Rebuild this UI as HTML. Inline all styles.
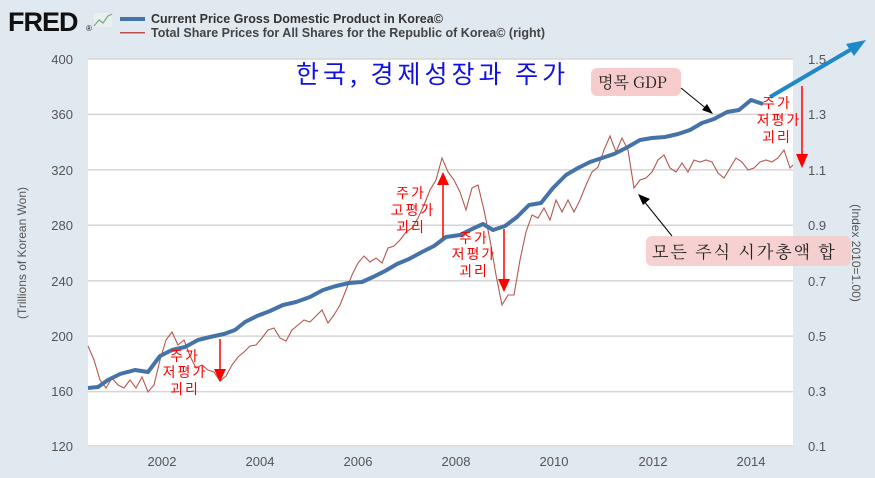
<!DOCTYPE html>
<html><head><meta charset="utf-8"><style>
body{margin:0;width:875px;height:473px;overflow:hidden;background:#e1e9f0;font-family:"Liberation Sans","Noto Sans CJK KR",sans-serif}
</style></head><body>
<svg width="875" height="473" xmlns="http://www.w3.org/2000/svg" font-family="Liberation Sans, Noto Sans CJK KR, sans-serif">
<rect width="875" height="473" fill="#e1e9f0"/>
<text x="8" y="31" font-size="27" font-weight="bold" fill="#111" letter-spacing="-1">FRED</text>
<text x="86" y="31" font-size="8" fill="#111">®</text>
<rect x="93" y="12" width="20" height="16" fill="#e8eef2" stroke="#cdd" stroke-width="0.5"/>
<polyline points="94,26 99,20 103,23 108,16 112,14" fill="none" stroke="#7a7" stroke-width="1.2"/>
<rect x="120" y="17" width="25" height="4" fill="#4572a7"/>
<text x="151" y="23" font-size="12.5" font-weight="bold" fill="#333">Current Price Gross Domestic Product in Korea©</text>
<rect x="120" y="32" width="25" height="1.5" fill="#c0504d"/>
<text x="151" y="37" font-size="12.5" font-weight="bold" fill="#444">Total Share Prices for All Shares for the Republic of Korea© (right)</text>
<rect x="88" y="59" width="705" height="388" fill="#fff"/>
<g stroke="#d6d6d6" stroke-width="1.5">
<line x1="88" x2="793" y1="59" y2="59"/><line x1="88" x2="793" y1="114.4" y2="114.4"/><line x1="88" x2="793" y1="169.9" y2="169.9"/><line x1="88" x2="793" y1="225.3" y2="225.3"/><line x1="88" x2="793" y1="280.7" y2="280.7"/><line x1="88" x2="793" y1="336.1" y2="336.1"/><line x1="88" x2="793" y1="391.6" y2="391.6"/><line x1="88" x2="793" y1="446" y2="446"/>
</g>
<g font-size="13" fill="#555" text-anchor="end">
<text x="73" y="64">400</text><text x="73" y="119">360</text><text x="73" y="175">320</text><text x="73" y="230">280</text><text x="73" y="286">240</text><text x="73" y="341">200</text><text x="73" y="396">160</text><text x="73" y="451">120</text>
</g>
<g font-size="13" fill="#555">
<text x="808" y="64">1.5</text><text x="808" y="119">1.3</text><text x="808" y="175">1.1</text><text x="808" y="230">0.9</text><text x="808" y="286">0.7</text><text x="808" y="341">0.5</text><text x="808" y="396">0.3</text><text x="808" y="451">0.1</text>
</g>
<g font-size="13" fill="#555" text-anchor="middle">
<text x="162" y="466">2002</text><text x="260" y="466">2004</text><text x="358" y="466">2006</text><text x="456" y="466">2008</text><text x="554" y="466">2010</text><text x="653" y="466">2012</text><text x="751" y="466">2014</text>
</g>
<text transform="translate(26,253) rotate(-90)" font-size="12" fill="#555" text-anchor="middle">(Trillions of Korean Won)</text>
<text transform="translate(852,253) rotate(90)" font-size="12" fill="#555" text-anchor="middle">(Index 2010=1.00)</text>
<polyline fill="none" stroke="#b5574f" stroke-width="1.1" points="88,346 94,360 100,380 106,388 112,378 118,385 124,388 130,380 136,388 142,377 148,392 154,385 160,360 166,340 172,332 178,345 184,340 190,356 196,368 202,365 208,370 214,372 220,381 226,376 232,365 238,357 244,352 250,346 256,345 262,338 268,330 274,328 280,338 286,341 292,330 298,325 304,320 310,322 316,316 322,310 328,323 334,315 340,305 346,290 352,275 358,263 364,256 370,262 376,258 382,263 388,248 394,246 400,240 406,232 412,228 418,218 424,205 430,190 436,180 442,158 448,172 454,180 460,192 466,210 472,188 478,185 484,210 490,240 496,275 502,305 508,295 514,295 520,260 526,232 532,215 538,218 544,208 550,220 556,200 562,212 568,200 574,212 580,200 586,185 592,172 598,167 604,150 610,136 616,152 622,138 628,150 634,188 640,180 646,178 652,172 658,160 664,155 670,168 676,172 682,163 688,172 694,160 700,162 706,160 712,162 718,173 724,178 730,168 736,158 742,162 748,170 754,168 760,162 766,160 772,162 778,158 784,150 790,168 793,165"/>
<polyline fill="none" stroke="#4572a7" stroke-width="4" stroke-linejoin="round" points="88,388 98,387 108,380 120,374 135,370 148,372 160,356 172,350 185,347 198,340 210,337 224,334 235,330 245,322 257,316 270,311 283,305 296,302 310,297 323,290 336,286 349,283 362,282 373,277 385,271 397,264 409,259 422,252 434,246 446,237 460,235 472,229 483,224 493,230 505,226 517,217 529,205 541,203 553,188 566,175 578,168 590,162 602,158 614,154 626,148 640,140 652,138 665,137 678,134 690,130 702,123 714,119 727,112 739,110 751,100 763,104"/>
<line x1="770" y1="97" x2="850" y2="50" stroke="#1e88c8" stroke-width="4"/>
<polygon points="866,40 846,44 854,56" fill="#1e88c8"/>
<text x="296" y="83" font-size="25" fill="#1010e0" font-family="Noto Sans CJK KR, sans-serif" letter-spacing="4">한국, 경제성장과 주가</text>
<rect x="591" y="68" width="90" height="28" rx="6" fill="#f6cccc"/>
<text x="598" y="88" font-size="16" fill="#222" font-family="Noto Serif CJK SC, Noto Sans CJK KR, serif">명목 GDP</text>
<line x1="681" y1="88" x2="708" y2="110" stroke="#000"/><polygon points="713,114 702,110 707,104" fill="#000"/>
<rect x="646" y="236" width="205" height="30" rx="6" fill="#f6cccc" opacity="0.9"/>
<text x="652" y="258" font-size="17" fill="#222" font-family="Noto Serif CJK SC, Noto Sans CJK KR, serif" letter-spacing="2">모든 주식 시가총액 합</text>
<line x1="672" y1="236" x2="643" y2="200" stroke="#000"/><polygon points="638,194 650,199 643,205" fill="#000"/>
<g font-size="14" fill="#f00" text-anchor="middle" font-family="Noto Sans CJK KR, sans-serif" letter-spacing="2">
<text x="411" y="198">주가</text><text x="413" y="215">고평가</text><text x="411" y="232">괴리</text>
<text x="474" y="243">주가</text><text x="474" y="259">저평가</text><text x="474" y="276">괴리</text>
<text x="185" y="361">주가</text><text x="185" y="377">저평가</text><text x="185" y="394">괴리</text>
<text x="777" y="108">주가</text><text x="779" y="125">저평가</text><text x="777" y="142">괴리</text>
</g>
<g stroke="#f00" stroke-width="1.5" fill="#f00">
<line x1="443" y1="238" x2="443" y2="183"/><polygon points="443,172 437,185 449,185" stroke="none"/>
<line x1="504" y1="229" x2="504" y2="280"/><polygon points="504,292 498,279 510,279" stroke="none"/>
<line x1="220" y1="339" x2="220" y2="370"/><polygon points="220,382 214,369 226,369" stroke="none"/>
<line x1="802" y1="86" x2="802" y2="155"/><polygon points="802,168 796,154 808,154" stroke="none"/>
</g>
</svg>
</body></html>
